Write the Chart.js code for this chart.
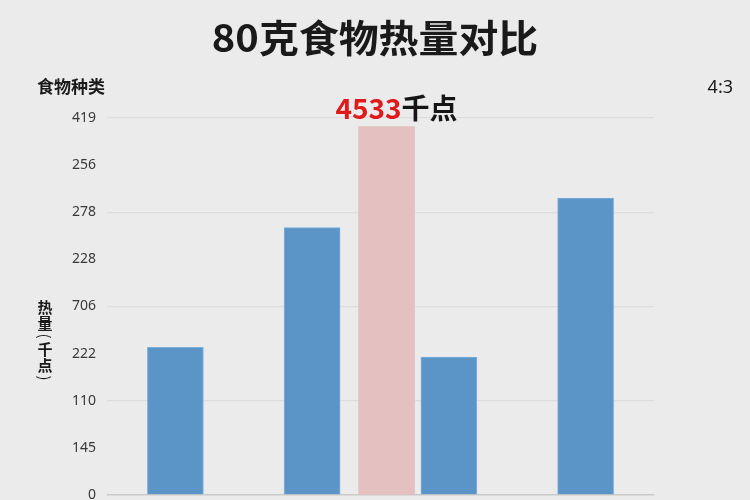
<!DOCTYPE html>
<html><head><meta charset="utf-8">
<script src="https://cdn.jsdelivr.net/npm/chart.js@4"></script>
<style>html,body{margin:0;padding:0;background:#ebebeb;} canvas{display:block;}</style>
</head><body>
<canvas id="c" width="750" height="500"></canvas>
<script>
// ---- data ----
const categories = ['食物A', '食物B', '食物C', '食物D'];
const calories = [1818, 3290, 1698, 3655];
const highlightValue = [4533];
const highlightSlot = [1.55];          // category-index position of the highlighted bar
const highlightUnit = '千点';
const yTickLabels = ['0', '145', '110', '222', '706', '228', '278', '256', '419'];
const titleText = '80克食物热量对比';
const xAxisTitle = '食物种类';
const yAxisTitle = '热量(千点)';
const ratioText = '4:3';

const CJK = '"Noto Sans CJK SC", "Noto Sans", sans-serif';

const textPlugin = {
  id: 'texts',
  beforeDraw(chart) {
    const ctx = chart.ctx;
    ctx.save();
    ctx.fillStyle = '#ebebeb';
    ctx.fillRect(0, 0, chart.width, chart.height);
    ctx.restore();
  },
  afterDraw(chart) {
    const ctx = chart.ctx;
    ctx.save();
    ctx.fillStyle = '#1a1a1a';
    ctx.textAlign = 'center';
    ctx.textBaseline = 'middle';
    ctx.font = 'bold 38px ' + CJK;
    ctx.save();
    ctx.translate(375, 38);
    ctx.scale(1.05, 1);
    ctx.fillText(titleText, 0, 0);
    ctx.restore();

    ctx.font = 'bold 17px ' + CJK;
    ctx.textAlign = 'left';
    ctx.fillText(xAxisTitle, 37, 87);

    ctx.font = '18px "Noto Sans", sans-serif';
    ctx.textAlign = 'right';
    ctx.fillText(ratioText, 733, 88);

    // vertical y-axis title, upright characters, rotated brackets
    ctx.font = 'bold 15px ' + CJK;
    ctx.textAlign = 'center';
    let y = 299;
    Array.from(yAxisTitle).forEach((ch) => {
      const paren = (ch === '(' || ch === ')');
      const h = paren ? 10 : 16;
      const cy = y + h / 2;
      if (paren) {
        ctx.save();
        ctx.translate(45, cy);
        ctx.rotate(Math.PI / 2);
        ctx.font = '15px ' + CJK;
        ctx.fillText(ch, 0, 0);
        ctx.restore();
      } else {
        ctx.fillText(ch, 45, cy);
      }
      y += h;
    });

    const bar = chart.getDatasetMeta(1).data[0];
    if (bar) {
      ctx.font = 'bold 28px ' + CJK;
      const num = String(highlightValue[0]);
      const w1 = ctx.measureText(num).width;
      const w2 = ctx.measureText(highlightUnit).width;
      const start = bar.x + 10 - (w1 + w2) / 2;
      ctx.textAlign = 'left';
      ctx.textBaseline = 'alphabetic';
      ctx.fillStyle = '#e0191b';
      ctx.fillText(num, start, bar.y - 8);
      ctx.fillStyle = '#151515';
      ctx.fillText(highlightUnit, start + w1, bar.y - 8);
    }
    ctx.restore();
  }
};

new Chart(document.getElementById('c'), {
  type: 'bar',
  data: {
    labels: categories,
    datasets: [
      {
        label: '热量',
        data: calories,
        xAxisID: 'x',
        grouped: false,
        backgroundColor: '#5b94c6',
        borderColor: '#7db1dd',
        borderWidth: 1,
        barThickness: 56
      },
      {
        label: '对比',
        data: highlightValue.map((v, i) => ({ x: highlightSlot[i], y: v })),
        xAxisID: 'x2',
        grouped: false,
        backgroundColor: '#e4c0c1',
        borderWidth: 0,
        barThickness: 56
      }
    ]
  },
  options: {
    responsive: false,
    animation: false,
    devicePixelRatio: 1,
    layout: { padding: { top: 118, left: 0, right: 96, bottom: 5 } },
    plugins: { legend: { display: false }, tooltip: { enabled: false }, title: { display: false } },
    scales: {
      x: { type: 'category', display: false },
      x2: { type: 'linear', display: false, min: -0.5, max: 3.5 },
      y: {
        min: 0, max: 4640,
        border: { display: false },
        grid: {
          drawTicks: false,
          color: (c) => c.index === 0 ? '#c9c9c9' : (c.index % 2 === 0 ? '#dddddd' : 'rgba(0,0,0,0)'),
          lineWidth: (c) => c.index === 0 ? 1.5 : 1.2
        },
        ticks: {
          stepSize: 580,
          padding: 11,
          color: '#383838',
          font: { family: '"Noto Sans", sans-serif', size: 14 },
          callback: (v, i) => yTickLabels[i]
        },
        afterFit: (s) => { s.width = 107; s.paddingTop = 0; s.paddingBottom = 0; }
      }
    }
  },
  plugins: [textPlugin]
});
</script>
</body></html>
